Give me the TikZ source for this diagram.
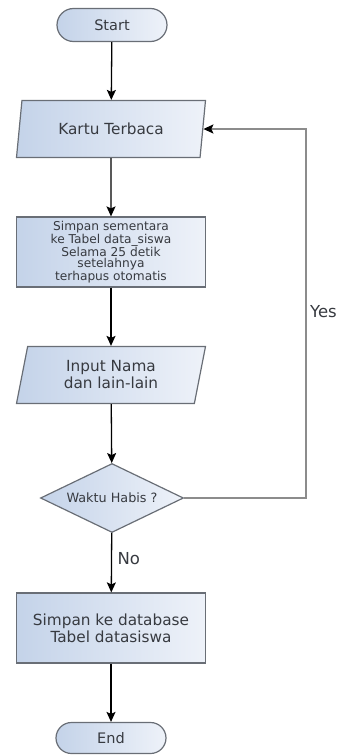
\documentclass[tikz,border=0pt]{standalone}
\usepackage{fontspec}
\setmainfont{DejaVu Sans}
\usetikzlibrary{shapes.geometric,shapes.misc,arrows.meta,positioning}
\definecolor{flowl}{RGB}{196,211,233}
\definecolor{flowr}{RGB}{238,242,249}
\definecolor{edge}{RGB}{105,110,118}
\definecolor{ink}{RGB}{55,58,64}
\tikzset{
  base/.style={draw=edge,line width=1.2pt,left color=flowl,right color=flowr,text=ink,align=center,inner sep=2pt},
  term/.style={base,rounded rectangle,minimum width=114pt,minimum height=33pt,font=\fontsize{14.5}{17}\selectfont},
  io/.style={base,trapezium,trapezium left angle=71,trapezium right angle=109,trapezium stretches body,minimum width=189pt,minimum height=57pt,font=\fontsize{15.3}{17}\selectfont},
  proc/.style={base,rectangle,minimum width=189pt,minimum height=70pt},
  dec/.style={base,diamond,aspect=2.07,minimum width=143pt,minimum height=69pt,inner sep=0pt,font=\fontsize{12.8}{14}\selectfont},
  arr/.style={-{Stealth[length=10pt,width=9pt,inset=2pt]},line width=1.3pt},
  back/.style={draw=gray!90,line width=1.6pt,-{Stealth[length=10pt,width=9pt,inset=2pt,color=black]}},
  lbl/.style={font=\fontsize{16.5}{18}\selectfont,text=ink}
}
\begin{document}
\begin{tikzpicture}[x=1pt,y=-1pt]
\useasboundingbox (0,0) rectangle (339,755);
% shapes of the flow
\node[term] (start) at (112,25) {Start};
\node[io] (kartu) at (111,129) {Kartu Terbaca};
\node[proc,font=\fontsize{12.2}{10.9}\selectfont] (temp) at (111,252) {Simpan sementara\\ke Tabel data\_siswa\\Selama 25 detik\\setelahnya\\terhapus otomatis};
\node[io] (input) at (111,375) {Input Nama\\dan lain-lain};
\node[dec] (wait) at (112,498) {Waktu Habis ?};
\node[proc,font=\fontsize{15.3}{17}\selectfont] (save) at (111,628) {Simpan ke database\\Tabel datasiswa};
\node[term,minimum height=31pt] (end) at (111,738) {End};
% connectors
\draw[arr] (start) -- (kartu);
\draw[arr] (kartu) -- (temp);
\draw[arr] (temp) -- (input);
\draw[arr] (input) -- (wait);
\draw[arr] (wait) -- (save) node[lbl,pos=0.43,right,xshift=2pt] {No};
\draw[arr] (save) -- (end);
\coordinate (yes) at (306,312);
\draw[back] (wait.east) -| (yes) node[lbl,right] {Yes} |- (kartu.east);
\end{tikzpicture}
\end{document}
